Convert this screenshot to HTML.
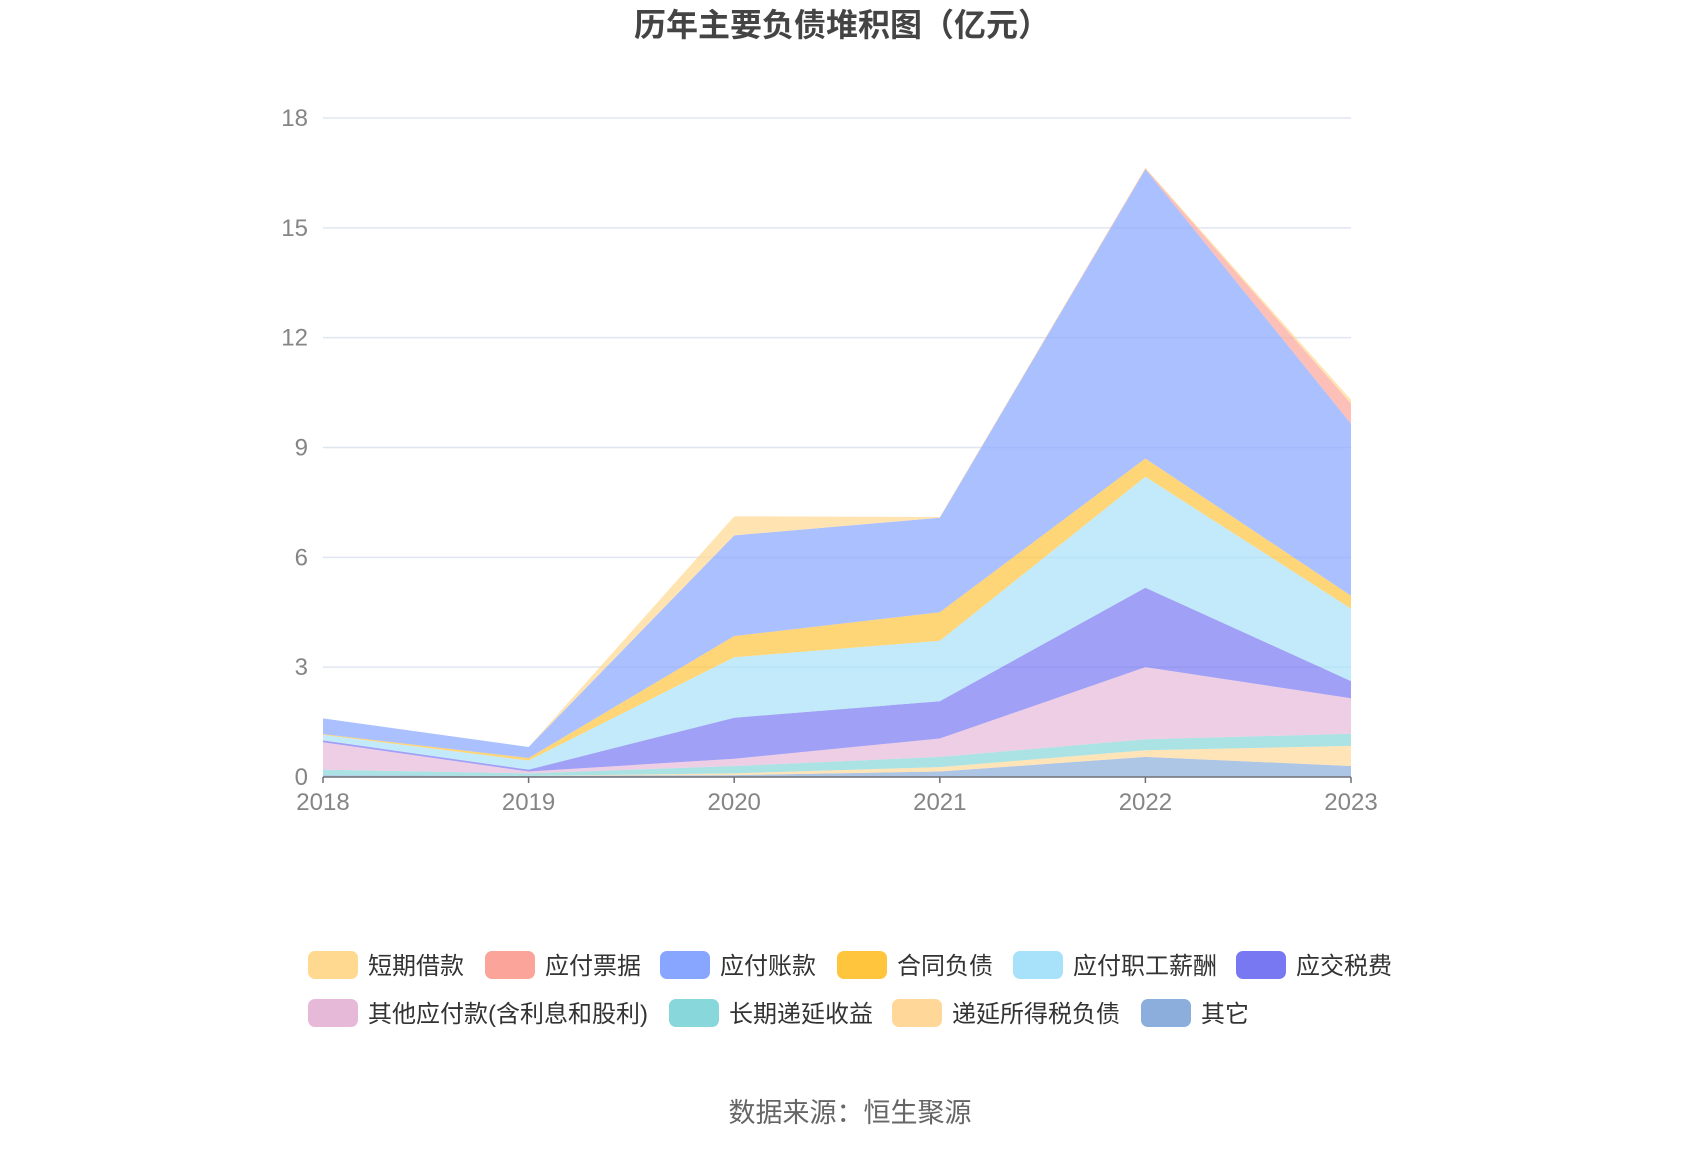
<!DOCTYPE html>
<html><head><meta charset="utf-8"><style>
body{margin:0;background:#fff;width:1700px;height:1150px;overflow:hidden;font-family:"Liberation Sans","Noto Sans CJK SC",sans-serif}
svg text{font-family:"Liberation Sans","Noto Sans CJK SC",sans-serif}
</style></head><body>
<svg id="chart" width="1700" height="1150" xmlns="http://www.w3.org/2000/svg">
<text x="842" y="36" text-anchor="middle" font-size="32" font-weight="bold" fill="#444">历年主要负债堆积图（亿元）</text>
<g id="grid"></g><g id="areas"></g><g id="axes"></g><g id="legend"></g>
<text x="850" y="1122" text-anchor="middle" font-size="27" fill="#666">数据来源：恒生聚源</text>
</svg>
<script>
const years=["2018","2019","2020","2021","2022","2023"];
const yTicks=[0,3,6,9,12,15,18];
const seriesNames=["短期借款","应付票据","应付账款","合同负债","应付职工薪酬","应交税费","其他应付款(含利息和股利)","长期递延收益","递延所得税负债","其它"];
const seriesColors=["#FFD990","#FBA59A","#88A5FF","#FFC53D","#A8E1FA","#7878F2","#E7B9D9","#88D7DA","#FFD899","#8CAEDC"];
const sShort=[0,0,0.52,0.02,0.02,0.1];
const sNotes=[0,0,0,0,0.02,0.55];
const sAccounts=[0.43,0.3,2.75,2.58,7.9,4.7];
const sContract=[0.02,0.07,0.58,0.78,0.5,0.35];
const sSalary=[0.15,0.25,1.65,1.65,3.03,1.98];
const sTax=[0.05,0.05,1.12,1.02,2.17,0.47];
const sOtherPay=[0.75,0.05,0.2,0.5,1.97,0.97];
const sDeferredInc=[0.15,0.07,0.2,0.28,0.3,0.33];
const sDeferredTax=[0,0,0.05,0.12,0.18,0.55];
const sOther=[0.05,0.03,0.05,0.15,0.55,0.3];
const seriesData=[sShort,sNotes,sAccounts,sContract,sSalary,sTax,sOtherPay,sDeferredInc,sDeferredTax,sOther];
const NS="http://www.w3.org/2000/svg";
const x0=323,x1=1351,y0=777,y1=118,yMax=18;
const xS=i=>x0+(x1-x0)*i/(years.length-1);
const yS=v=>y0-(y0-y1)*v/yMax;
function mk(t,a,p){const e=document.createElementNS(NS,t);for(const k in a)e.setAttribute(k,a[k]);p.appendChild(e);return e;}
const grid=document.getElementById('grid'),axes=document.getElementById('axes'),areas=document.getElementById('areas'),legend=document.getElementById('legend');
yTicks.forEach(t=>{
 if(t>0){const l=mk('line',{x1:x0,x2:x1,y1:yS(t),y2:yS(t),stroke:'#e0e6f1','stroke-width':1.5},grid);
 
 }
 const tx=mk('text',{x:308,y:yS(t)+8,'text-anchor':'end','font-size':24,fill:'#858585'},axes);tx.textContent=t;
 
 
});
const base=years.map(()=>0);
for(let s=seriesData.length-1;s>=0;s--){
 const lo=base.slice();const hi=base.map((b,i)=>b+seriesData[s][i]);
 let d='';hi.forEach((v,i)=>{d+=(i?'L':'M')+xS(i)+' '+yS(v)+' ';});
 for(let i=years.length-1;i>=0;i--)d+='L'+xS(i)+' '+yS(lo[i])+' ';
 const p=mk('path',{d:d+'Z',fill:seriesColors[s],'fill-opacity':0.7},areas);
 
 
 hi.forEach((v,i)=>base[i]=v);
}
const ax=mk('line',{x1:x0,x2:x1,y1:y0,y2:y0,stroke:'#6e7079','stroke-width':1.5},axes);


years.forEach((y,i)=>{
 const tk=mk('line',{x1:xS(i),x2:xS(i),y1:y0,y2:y0+6,stroke:'#6e7079','stroke-width':1.5},axes);
 
 
 const t=mk('text',{x:xS(i),y:y0+33,'text-anchor':'middle','font-size':24,fill:'#858585'},axes);t.textContent=y;
 
 
});
const lx=[308,485,660,837,1013,1236,308,669,892,1141];
const ly=[965,965,965,965,965,965,1013,1013,1013,1013];
seriesNames.forEach((n,i)=>{
 const g=mk('g',{},legend);
 
 
 mk('rect',{x:lx[i],y:ly[i]-14,width:50,height:28,rx:7,fill:seriesColors[i]},g);
 const t=mk('text',{x:lx[i]+60,y:ly[i]+9,'font-size':24,fill:'#333'},g);t.textContent=n;
});
</script>
</body></html>
